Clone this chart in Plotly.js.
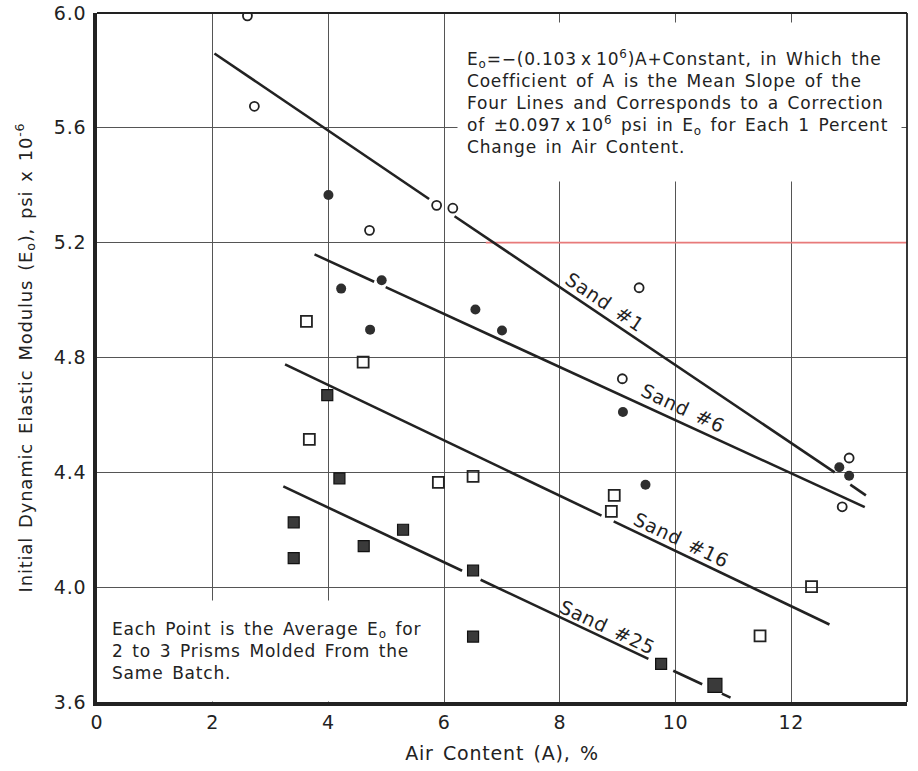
<!DOCTYPE html>
<html>
<head>
<meta charset="utf-8">
<script src="https://cdn.plot.ly/plotly-3.0.1.min.js"></script>
<style>
html,body{margin:0;padding:0;background:#fff;}
#chart{width:918px;height:771px;}
svg text{letter-spacing:0.8px;word-spacing:2.5px;}
</style>
</head>
<body>
<div id="chart"></div>
<script>
// ---- data ----
const sand1X = [2.60, 2.72, 5.87, 6.15, 4.71, 9.37, 9.08, 13.00, 12.88];
const sand1Y = [5.99, 5.675, 5.33, 5.32, 5.243, 5.043, 4.726, 4.45, 4.28];

const sand6X = [4.00, 4.92, 4.22, 4.72, 6.54, 7.00, 9.09, 9.48, 12.83, 13.00];
const sand6Y = [5.366, 5.069, 5.04, 4.897, 4.967, 4.894, 4.61, 4.357, 4.418, 4.388];

const sand16X = [3.62, 4.60, 3.67, 5.90, 6.50, 8.94, 8.89, 12.35, 11.46];
const sand16Y = [4.926, 4.784, 4.515, 4.365, 4.386, 4.32, 4.264, 4.002, 3.83];

const sand25X = [3.98, 4.19, 3.40, 3.40, 4.61, 5.29, 6.50, 6.50, 9.75, 10.68];
const sand25Y = [4.669, 4.379, 4.226, 4.101, 4.143, 4.20, 4.058, 3.828, 3.733, 3.658];

// fitted lines (segments, null = break in the drawn line)
const sand1LineX = [2.03, 5.74, null, 6.18, 12.75, null, 13.02, 13.29];
const sand1LineY = [5.859, 5.352, null, 5.292, 4.400, null, 4.357, 4.320];
const sand6LineX = [3.76, 4.79, null, 4.99, 13.27];
const sand6LineY = [5.159, 5.064, null, 5.045, 4.279];
const sand16LineX = [3.25, 8.72, null, 8.93, 12.66];
const sand16LineY = [4.776, 4.249, null, 4.229, 3.870];
const sand25LineX = [3.22, 6.31, null, 6.63, 9.53, null, 9.96, 10.46, null, 10.80, 10.95];
const sand25LineY = [4.351, 4.057, null, 4.026, 3.750, null, 3.709, 3.662, null, 3.629, 3.615];

const lineLabels = ["Sand #1", "Sand #6", "Sand #16", "Sand #25"];
const labelX = [8.78, 10.13, 10.11, 8.82];
const labelY = [4.993, 4.623, 4.165, 3.861];
const labelAngle = [34, 25, 25.5, 25];

const xTicks = [0, 2, 4, 6, 8, 10, 12, 14];
const yTicks = [3.6, 4.0, 4.4, 4.8, 5.2, 5.6, 6.0];

const T = "\u2009"; // thin space
const noteTop = "E<sub>o</sub>=−(0.103" + T + "x" + T + "10<sup>6</sup>)A+Constant, in Which the<br>Coefficient of A is the Mean Slope of the<br>Four Lines and Corresponds to a Correction<br>of ±0.097" + T + "x" + T + "10<sup>6</sup> psi in E<sub>o</sub> for Each 1 Percent<br>Change in Air Content.";
const noteBottom = "Each Point is the Average E<sub>o</sub> for<br>2 to 3 Prisms Molded From the<br>Same Batch.";

// ---- chart ----
const FONT = "DejaVu Sans, Liberation Sans, sans-serif";
const INK = "#222";
const lineStyle = {color: INK, width: 2.6};

const traces = [
  {x: sand1LineX, y: sand1LineY, mode: "lines", line: lineStyle, connectgaps: false, hoverinfo: "skip"},
  {x: sand6LineX, y: sand6LineY, mode: "lines", line: lineStyle, connectgaps: false, hoverinfo: "skip"},
  {x: sand16LineX, y: sand16LineY, mode: "lines", line: lineStyle, connectgaps: false, hoverinfo: "skip"},
  {x: sand25LineX, y: sand25LineY, mode: "lines", line: lineStyle, connectgaps: false, hoverinfo: "skip"},
  {x: sand1X, y: sand1Y, mode: "markers", name: "Sand #1",
   marker: {symbol: "circle-open", size: 9, color: INK, opacity: 1, line: {width: 1.8, color: INK}}},
  {x: sand6X, y: sand6Y, mode: "markers", name: "Sand #6",
   marker: {symbol: "circle", size: 10, color: "#2e2e2e", opacity: 1}},
  {x: sand16X, y: sand16Y, mode: "markers", name: "Sand #16",
   marker: {symbol: "square-open", size: 11, color: INK, opacity: 1, line: {width: 1.8, color: INK}}},
  {x: sand25X, y: sand25Y, mode: "markers", name: "Sand #25",
   marker: {symbol: "square", size: sand25X.map((v, i) => i === sand25X.length - 1 ? 14 : 11),
            color: "#3a3a3a", opacity: 1, line: {width: 1.2, color: "#111"}}}
];

const annotations = lineLabels.map((t, i) => ({
  x: labelX[i], y: labelY[i], xref: "x", yref: "y", text: t,
  showarrow: false, textangle: labelAngle[i],
  font: {family: FONT, size: 19, color: INK}
}));
annotations.push({
  x: 6.22, y: 5.968, xref: "x", yref: "y", xanchor: "left", yanchor: "top",
  width: 425, height: 140, valign: "middle",
  text: noteTop, align: "left", showarrow: false, bgcolor: "#fff", borderpad: 9,
  font: {family: FONT, size: 17, color: INK}
});
annotations.push({
  x: 0.134, y: 3.954, xref: "x", yref: "y", xanchor: "left", yanchor: "top",
  width: 323, height: 88, valign: "middle",
  text: noteBottom, align: "left", showarrow: false, bgcolor: "#fff", borderpad: 6,
  font: {family: FONT, size: 17, color: INK}
});

const layout = {
  width: 918, height: 771,
  margin: {l: 97, r: 11, t: 13, b: 69},
  paper_bgcolor: "#fff", plot_bgcolor: "#fff",
  showlegend: false,
  font: {family: FONT, color: INK},
  xaxis: {
    range: [0, 14], tickvals: xTicks, ticktext: xTicks.map(String),
    showgrid: true, gridcolor: "#555", gridwidth: 1.4, zeroline: false,
    showline: true, linecolor: INK, linewidth: 3.5, ticks: "",
    tickfont: {family: FONT, size: 19, color: INK},
    title: {text: "Air Content (A), %", font: {family: FONT, size: 19, color: INK}, standoff: 16}
  },
  yaxis: {
    range: [3.6, 6.0], tickvals: yTicks, ticktext: yTicks.map(v => v.toFixed(1)),
    showgrid: true, gridcolor: "#555", gridwidth: 1.4, zeroline: false,
    showline: true, linecolor: INK, linewidth: 3.5, ticks: "", ticklabelstandoff: 3,
    tickfont: {family: FONT, size: 19, color: INK},
    title: {text: "Initial Dynamic Elastic Modulus (E<sub>o</sub>), psi x 10<sup>-6</sup>",
            font: {family: FONT, size: 18, color: INK}, standoff: 18}
  },
  shapes: [
    {type: "line", xref: "paper", yref: "paper", x0: 0, x1: 1, y0: 1, y1: 1, line: {color: INK, width: 1.8}},
    {type: "line", xref: "paper", yref: "paper", x0: 1, x1: 1, y0: 0, y1: 1, line: {color: INK, width: 1.8}},
    {type: "line", xref: "x", yref: "y", x0: 6.72, x1: 14, y0: 5.2, y1: 5.2, layer: "between",
     line: {color: "#e87a7a", width: 1.6}}
  ],
  annotations: annotations
};

Plotly.newPlot("chart", traces, layout, {displayModeBar: false});
</script>
</body>
</html>
